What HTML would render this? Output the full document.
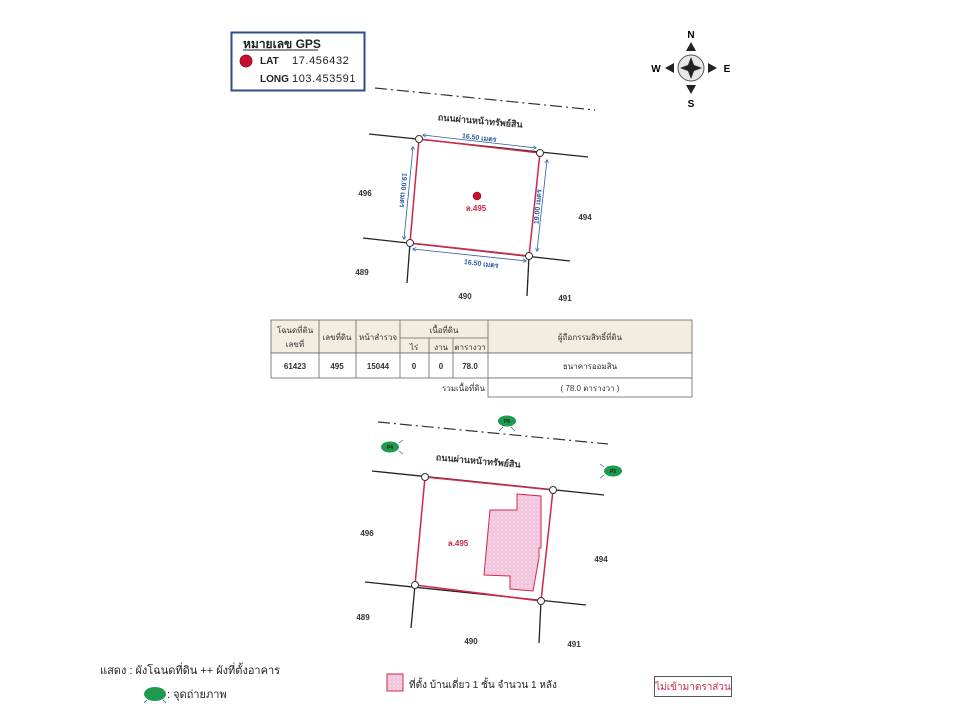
<!DOCTYPE html>
<html><head><meta charset="utf-8"><style>
html,body{margin:0;padding:0;background:#fff;}
svg{display:block;font-family:"Liberation Sans","DejaVu Sans",sans-serif;}
</style></head><body>
<svg width="960" height="720" viewBox="0 0 960 720" xmlns="http://www.w3.org/2000/svg">
<defs>
<pattern id="hatch" width="4" height="4" patternUnits="userSpaceOnUse">
<rect width="4" height="4" fill="#f2c6dc"/><circle cx="2" cy="2" r="0.8" fill="#fbe8f1"/>
</pattern>
<marker id="ar" viewBox="0 0 6 6" refX="5" refY="3" markerWidth="5" markerHeight="5" orient="auto-start-reverse"><path d="M0,0 L6,3 L0,6" fill="none" stroke="#2a5da8" stroke-width="1"/></marker>
</defs>

<!-- GPS box -->
<rect x="231.5" y="32.5" width="133" height="58" fill="#fff" stroke="#2c4f8c" stroke-width="2"/>
<text x="243" y="48" font-size="12" font-weight="bold" fill="#222">หมายเลข GPS</text>
<line x1="243" y1="50" x2="318" y2="50" stroke="#222" stroke-width="1"/>
<circle cx="246" cy="61" r="6" fill="#c8102e" stroke="#7a0a1a" stroke-width="0.8"/>
<text x="260" y="64" font-size="10" font-weight="bold" fill="#222">LAT</text>
<text x="292" y="64" font-size="11" fill="#222" letter-spacing="0.6">17.456432</text>
<text x="260" y="82" font-size="10" font-weight="bold" fill="#222">LONG</text>
<text x="292" y="82" font-size="11" fill="#222" letter-spacing="0.6">103.453591</text>

<!-- Compass -->
<g>
<circle cx="691" cy="68" r="13" fill="#e6e6e6" stroke="#555" stroke-width="1"/>
<path d="M691,57 L694,65 L702,68 L694,71 L691,79 L688,71 L680,68 L688,65 Z" fill="#222"/>
<path d="M691,42 L696,51 L686,51 Z" fill="#222"/>
<path d="M691,94 L696,85 L686,85 Z" fill="#222"/>
<path d="M665,68 L674,63 L674,73 Z" fill="#222"/>
<path d="M717,68 L708,63 L708,73 Z" fill="#222"/>
<text x="691" y="38" font-size="10" font-weight="bold" text-anchor="middle">N</text>
<text x="691" y="107" font-size="10" font-weight="bold" text-anchor="middle">S</text>
<text x="656" y="72" font-size="10" font-weight="bold" text-anchor="middle">W</text>
<text x="727" y="72" font-size="10" font-weight="bold" text-anchor="middle">E</text>
</g>

<!-- Top plan -->
<line x1="375" y1="88" x2="595" y2="110" stroke="#333" stroke-width="1.2" stroke-dasharray="12,4,2,4"/>
<text x="480" y="124" font-size="9" font-weight="bold" fill="#333" text-anchor="middle" transform="rotate(5 480 124)">ถนนผ่านหน้าทรัพย์สิน</text>
<line x1="369" y1="134" x2="588" y2="157" stroke="#222" stroke-width="1.3"/>
<line x1="363" y1="238" x2="570" y2="261" stroke="#222" stroke-width="1.3"/>
<line x1="410" y1="243" x2="407" y2="283" stroke="#222" stroke-width="1.3"/>
<line x1="529" y1="256" x2="527" y2="296" stroke="#222" stroke-width="1.3"/>
<polygon points="419,139 540,153 529,256 410,243" fill="none" stroke="#d0284a" stroke-width="1.5"/>
<g stroke="#2a5da8" stroke-width="0.8" marker-start="url(#ar)" marker-end="url(#ar)">
<line x1="423" y1="135" x2="536" y2="148"/>
<line x1="413" y1="147" x2="404" y2="239"/>
<line x1="547" y1="160" x2="537" y2="251"/>
<line x1="413" y1="249" x2="526" y2="261"/>
</g>
<g font-size="7" font-weight="bold" fill="#2a5da8" text-anchor="middle">
<text x="479" y="140" transform="rotate(6.5 479 140)">16.50 เมตร</text>
<text x="481" y="266" transform="rotate(6.5 481 266)">16.50 เมตร</text>
<text x="401" y="190" transform="rotate(95 401 190)">19.00 เมตร</text>
<text x="540" y="207" transform="rotate(-85 540 207)">19.00 เมตร</text>
</g>
<g fill="#fff" stroke="#333" stroke-width="1">
<circle cx="419" cy="139" r="3.5"/><circle cx="540" cy="153" r="3.5"/><circle cx="529" cy="256" r="3.5"/><circle cx="410" cy="243" r="3.5"/>
</g>
<circle cx="477" cy="196" r="4" fill="#c8102e" stroke="#7a0a1a" stroke-width="0.5"/>
<text x="476" y="211" font-size="8" font-weight="bold" fill="#c8284a" text-anchor="middle">ล.495</text>
<g font-size="8" font-weight="bold" fill="#333" text-anchor="middle">
<text x="365" y="196">496</text><text x="585" y="220">494</text><text x="362" y="275">489</text><text x="465" y="299">490</text><text x="565" y="301">491</text>
</g>

<!-- Table -->
<g stroke="#666" stroke-width="0.8">
<rect x="271" y="320" width="421" height="33" fill="#f3ede0"/>
<rect x="271" y="353" width="421" height="25" fill="#fff"/>
<rect x="488" y="378" width="204" height="19" fill="#fff"/>
<line x1="319" y1="320" x2="319" y2="378"/><line x1="356" y1="320" x2="356" y2="378"/>
<line x1="400" y1="320" x2="400" y2="378"/><line x1="488" y1="320" x2="488" y2="378"/>
<line x1="429" y1="338" x2="429" y2="378"/><line x1="453" y1="338" x2="453" y2="378"/>
<line x1="400" y1="338" x2="488" y2="338"/>
</g>
<g font-size="8" fill="#333" text-anchor="middle">
<text x="295" y="333">โฉนดที่ดิน</text><text x="295" y="347">เลขที่</text>
<text x="337" y="340">เลขที่ดิน</text><text x="378" y="340">หน้าสำรวจ</text>
<text x="444" y="333">เนื้อที่ดิน</text>
<text x="414" y="350">ไร่</text><text x="441" y="350">งาน</text><text x="470" y="350">ตารางวา</text>
<text x="590" y="340">ผู้ถือกรรมสิทธิ์ที่ดิน</text>
<g font-weight="bold"><text x="295" y="369">61423</text><text x="337" y="369">495</text><text x="378" y="369">15044</text>
<text x="414" y="369">0</text><text x="441" y="369">0</text><text x="470" y="369">78.0</text></g>
<text x="590" y="369">ธนาคารออมสิน</text>
<text x="485" y="391" text-anchor="end">รวมเนื้อที่ดิน</text>
<text x="590" y="391">( 78.0 ตารางวา )</text>
</g>

<!-- Bottom plan -->
<line x1="378" y1="422" x2="608" y2="444" stroke="#333" stroke-width="1.2" stroke-dasharray="12,4,2,4"/>
<text x="478" y="464" font-size="9" font-weight="bold" fill="#333" text-anchor="middle" transform="rotate(5 478 464)">ถนนผ่านหน้าทรัพย์สิน</text>
<line x1="372" y1="471" x2="604" y2="495" stroke="#222" stroke-width="1.3"/>
<line x1="365" y1="582" x2="586" y2="605" stroke="#222" stroke-width="1.3"/>
<line x1="415" y1="585" x2="411" y2="628" stroke="#222" stroke-width="1.3"/>
<line x1="541" y1="601" x2="539" y2="643" stroke="#222" stroke-width="1.3"/>
<polygon points="425,477 553,490 541,601 415,585" fill="none" stroke="#d0284a" stroke-width="1.5"/>
<polygon points="517,494 541,496 541,548 539,548 539,558 533,591 510,589 510,576 484,575 490,510 517,510" fill="url(#hatch)" stroke="#d0284a" stroke-width="1"/>
<g fill="#fff" stroke="#333" stroke-width="1">
<circle cx="425" cy="477" r="3.5"/><circle cx="553" cy="490" r="3.5"/><circle cx="541" cy="601" r="3.5"/><circle cx="415" cy="585" r="3.5"/>
</g>
<text x="458" y="546" font-size="8" font-weight="bold" fill="#c8284a" text-anchor="middle">ล.495</text>
<g font-size="8" font-weight="bold" fill="#333" text-anchor="middle">
<text x="367" y="536">496</text><text x="601" y="562">494</text><text x="363" y="620">489</text><text x="471" y="644">490</text><text x="574" y="647">491</text>
</g>
<!-- photo points -->
<g font-size="5" font-weight="bold" fill="#222" text-anchor="middle">
<ellipse cx="507" cy="421" rx="9" ry="5.5" fill="#1e9a4e"/><text x="507" y="423">P6</text>
<ellipse cx="390" cy="447" rx="9" ry="5.5" fill="#1e9a4e"/><text x="390" y="449">P4</text>
<ellipse cx="613" cy="471" rx="9" ry="5.5" fill="#1e9a4e"/><text x="613" y="473">P5</text>
</g>
<g stroke="#2a5da8" stroke-width="0.7" fill="none">
<path d="M503,427 l-4,4 M511,427 l4,4"/>
<path d="M399,443 l4,-3 M399,451 l4,3"/>
<path d="M604,467 l-4,-3 M604,475 l-4,3"/>
</g>

<!-- Legend -->
<text x="100" y="674" font-size="11" fill="#222">แสดง : ผังโฉนดที่ดิน ++ ผังที่ตั้งอาคาร</text>
<ellipse cx="155" cy="694" rx="11" ry="7" fill="#1e9a4e"/>
<path d="M147,700 l-3,3 M163,700 l3,3" stroke="#2a5da8" stroke-width="0.8"/>
<text x="167" y="698" font-size="11" fill="#222">: จุดถ่ายภาพ</text>
<rect x="387" y="674" width="16" height="17" fill="url(#hatch)" stroke="#d0284a" stroke-width="1"/>
<text x="409" y="688" font-size="10" fill="#222">ที่ตั้ง บ้านเดี่ยว 1 ชั้น จำนวน 1 หลัง</text>
<rect x="654.5" y="676.5" width="77" height="20" fill="#fff" stroke="#555" stroke-width="1"/>
<text x="693" y="690" font-size="10" fill="#c8284a" text-anchor="middle">ไม่เข้ามาตราส่วน</text>
</svg>
</body></html>
